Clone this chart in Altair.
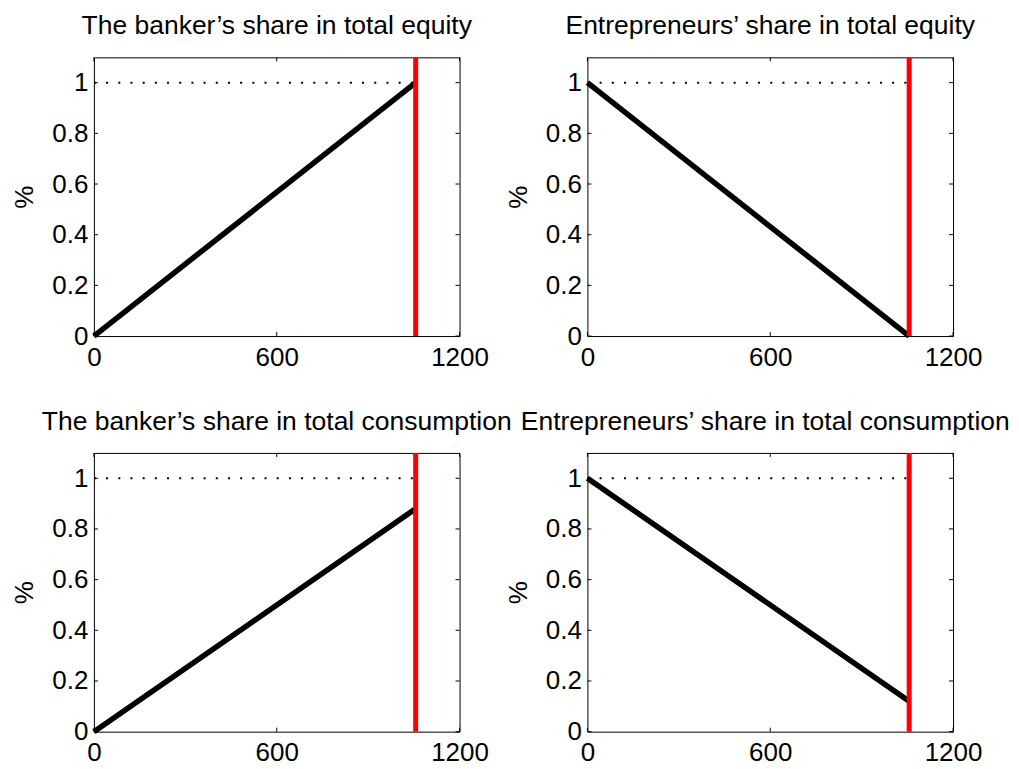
import altair as alt
import pandas as pd

# ---- data ----
x_ticks = [0, 600, 1200]
y_ticks = [0, 0.2, 0.4, 0.6, 0.8, 1.0]
titles = [
    "The banker’s share in total equity",
    "Entrepreneurs’ share in total equity",
    "The banker’s share in total consumption",
    "Entrepreneurs’ share in total consumption",
]
periods = [0, 528, 1056]
banker_equity = [0.0, 0.5, 1.0]
entre_equity = [1.0, 0.5, 0.0]
banker_cons = [0.0, 0.44, 0.88]
entre_cons = [1.0, 0.56, 0.12]
threshold = 1056
ref_level = 1.0

W, H = 366, 279
FONT = "Liberation Sans"
TL = 4  # inward tick length

xs = alt.Scale(domain=[0, 1200], nice=False, zero=False)
ys = alt.Scale(domain=[0, 1.1], nice=False, zero=False)

xaxis = alt.Axis(values=x_ticks, format="d", ticks=False, domain=False, grid=False,
                 labelFont=FONT, labelFontSize=26, labelPadding=8, labelColor="black",
                 labelFlush=False, labelOverlap=False)
yaxis = alt.Axis(values=y_ticks, format="~g", ticks=False, domain=False, grid=False,
                 labelFont=FONT, labelFontSize=26, labelPadding=6, labelColor="black",
                 labelFlush=False, labelOverlap=False,
                 title="%", titleFont=FONT, titleFontSize=26, titleFontWeight="normal",
                 titleColor="black", titleAngle=270, titleBaseline="alphabetic",
                 titleX=-61, titleY=H / 2)


def panel(title, values, title_dx=0):
    df = pd.DataFrame({"t": periods, "v": values})
    dotted = alt.Chart(pd.DataFrame({"t": [0], "t2": [threshold], "v": [ref_level]})).mark_rule(
        color="black", strokeWidth=2, strokeDash=[2, 10.2]
    ).encode(
        x=alt.X("t:Q", scale=xs, axis=xaxis, title=None),
        x2="t2:Q",
        y=alt.Y("v:Q", scale=ys, axis=yaxis),
    )
    line = alt.Chart(df).mark_line(color="black", strokeWidth=5.5).encode(
        x=alt.X("t:Q", scale=xs), y=alt.Y("v:Q", scale=ys)
    )
    red = alt.Chart(pd.DataFrame({"t": [threshold]})).mark_rule(
        color="#ff0000", strokeWidth=5
    ).encode(x=alt.X("t:Q", scale=xs))
    xt = pd.DataFrame({"t": x_ticks})
    yt = pd.DataFrame({"v": y_ticks})
    xb = alt.Chart(xt).mark_rule(color="black", strokeWidth=1).encode(
        x=alt.X("t:Q", scale=xs), y=alt.value(H), y2=alt.value(H - TL))
    xtop = alt.Chart(xt).mark_rule(color="black", strokeWidth=1).encode(
        x=alt.X("t:Q", scale=xs), y=alt.value(0), y2=alt.value(TL))
    yl = alt.Chart(yt).mark_rule(color="black", strokeWidth=1).encode(
        y=alt.Y("v:Q", scale=ys), x=alt.value(0), x2=alt.value(TL))
    yr = alt.Chart(yt).mark_rule(color="black", strokeWidth=1).encode(
        y=alt.Y("v:Q", scale=ys), x=alt.value(W), x2=alt.value(W - TL))
    return alt.layer(dotted, line, red, xb, xtop, yl, yr).properties(
        width=W, height=H,
        title=alt.TitleParams(text=title, font=FONT, fontSize=26.5, fontWeight="normal",
                              color="black", anchor="middle", baseline="alphabetic",
                              offset=22, dy=28, dx=title_dx),
    )


panels = [
    panel(titles[0], banker_equity),
    panel(titles[1], entre_equity),
    panel(titles[2], banker_cons),
    panel(titles[3], entre_cons, title_dx=-5),
]

chart = alt.ConcatChart(
    concat=panels, columns=2,
    spacing=alt.RowColnumber(row=117, column=128),
    bounds="flush",
    padding={"left": 3, "top": 4, "right": 0, "bottom": 0},
    background="white",
).configure_view(stroke="black", strokeWidth=1)

chart.save("out.html", embed_options={"renderer": "svg", "actions": False})
